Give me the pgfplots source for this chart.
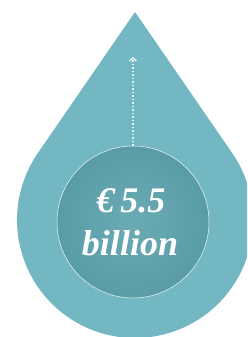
\documentclass[border=0pt]{standalone}
\usepackage{fontspec}
\setmainfont{Liberation Serif}
\usepackage{pgfplots}
\pgfplotsset{compat=1.18}
\usetikzlibrary{arrows.meta}
\definecolor{drop}{RGB}{114,183,194}
\definecolor{circin}{RGB}{106,171,180}
\definecolor{circout}{RGB}{90,156,166}
\begin{document}
\begin{tikzpicture}
\begin{axis}[width=247pt,height=337pt,scale only axis,
  xmin=0,xmax=247,ymin=0,ymax=337,hide axis,clip=true]
\addplot[draw=none] coordinates {(0,0) (247,337)};
\fill[drop] (axis cs:135,325) -- (axis cs:37.9,184.0) arc[start angle=145.4,end angle=394.6,radius=118] -- cycle;
\shade[inner color=circin,outer color=circout] (axis cs:133,115) circle[radius=76];
\draw[white,line width=0.5pt,opacity=0.9] (axis cs:133,115) circle[radius=76];
\addplot[white,opacity=0.85,line width=1.5pt,dash pattern=on 1.5pt off 2pt,
  -{Straight Barb[length=3pt,width=7pt,line width=1.4pt]}] coordinates {(133,191) (133,280)};
\node[white,font=\fontsize{36}{40}\selectfont\bfseries\itshape] at (axis cs:131,136) {€\,5.5};
\node[white,font=\fontsize{36}{40}\selectfont\bfseries\itshape] at (axis cs:130,94) {billion};
\end{axis}
\pgfresetboundingbox
\useasboundingbox (0,0) rectangle (247pt,337pt);
\end{tikzpicture}
\end{document}
